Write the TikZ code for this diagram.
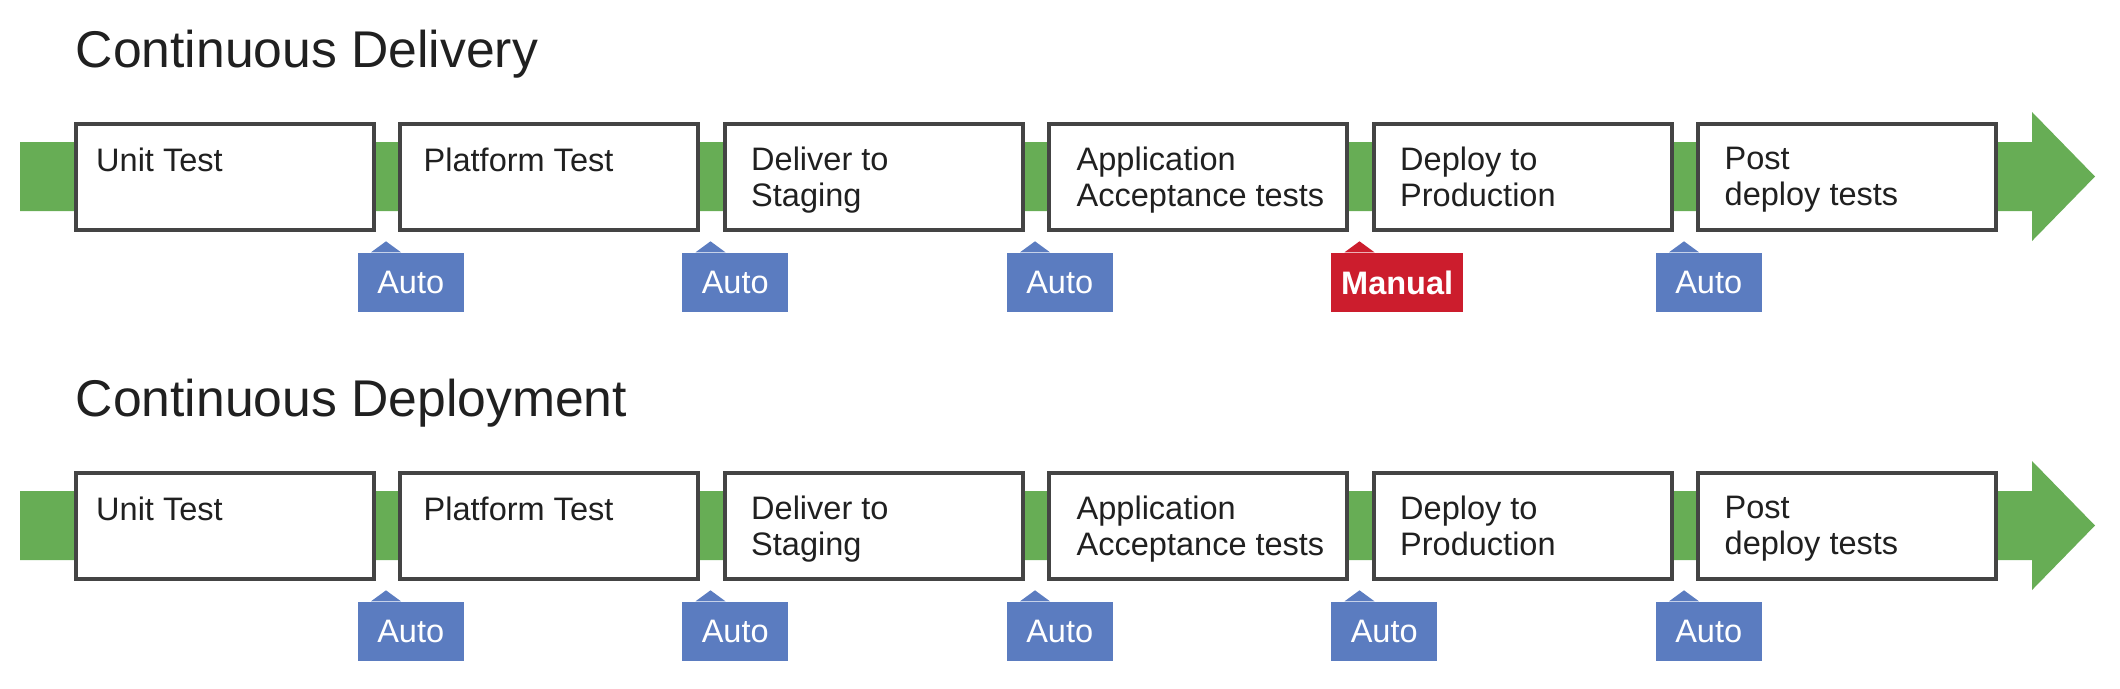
\documentclass[tikz,border=0pt]{standalone}
\usepackage{fontspec}
\setmainfont{Liberation Sans}
\definecolor{bandgreen}{HTML}{67AD55}
\definecolor{autoblue}{HTML}{5B7CC0}
\definecolor{manualred}{HTML}{CC1D2D}
\definecolor{boxgray}{HTML}{444444}
\definecolor{inkgray}{HTML}{202020}
\begin{document}
\begin{tikzpicture}
  [x=0.1mm,y=-0.1mm,
   title/.style={anchor=base west,inner sep=0pt,font=\fontsize{14.7}{17}\selectfont,text=inkgray},
   stepbox/.style={rectangle,draw=boxgray,fill=white,line width=0.4mm,minimum width=29.8mm,minimum height=10.6mm,inner sep=0pt},
   steptext/.style={anchor=north west,align=left,inner sep=0pt,font=\fontsize{9.25}{10.25}\selectfont,text=inkgray,execute at begin node=\strut},
   autotag/.style={rectangle,fill=autoblue,text=white,minimum width=10.6mm,minimum height=5.9mm,inner sep=0pt,font=\fontsize{9.25}{11}\selectfont},
   manualtag/.style={autotag,fill=manualred,minimum width=13.2mm,font=\fontsize{9.25}{11}\bfseries}]
  \useasboundingbox (0,0) rectangle (2120,688);

  % continuous delivery
  \node (cdtitle) at (75,67) [title] {Continuous Delivery};
  \fill [bandgreen] (20,142) -- (2032,142) -- (2032,112) -- (2095,176.5) -- (2032,241) -- (2032,211) -- (20,211) -- cycle;

  \node (cd1) at (224.5,177) [stepbox] {};
  \node (cd2) at (549,177) [stepbox] {};
  \node (cd3) at (873.5,177) [stepbox] {};
  \node (cd4) at (1198,177) [stepbox] {};
  \node (cd5) at (1522.5,177) [stepbox] {};
  \node (cd6) at (1847,177) [stepbox] {};

  \node (cd1t) at ([shift={(22,24)}]cd1.north west) [steptext] {Unit Test};
  \node (cd2t) at ([shift={(25,24)}]cd2.north west) [steptext] {Platform Test};
  \node (cd3t) at ([shift={(28,24)}]cd3.north west) [steptext] {Deliver to\\Staging};
  \node (cd4t) at ([shift={(29,24)}]cd4.north west) [steptext] {Application\\Acceptance tests};
  \node (cd5t) at ([shift={(28,24)}]cd5.north west) [steptext] {Deploy to\\Production};
  \node (cd6t) at ([shift={(28,24)}]cd6.north west) [steptext] {Post\\deploy tests};

  \node (cda1) at (410.7,282.5) [autotag] {Auto};
  \node (cda2) at (735.2,282.5) [autotag] {Auto};
  \node (cda3) at (1059.7,282.5) [autotag] {Auto};
  \node (cdm4) at (1397.2,282.5) [manualtag] {Manual};
  \node (cda5) at (1708.7,282.5) [autotag] {Auto};
  \fill [autoblue] ([xshift=1.4mm]cda1.north west) -- ++(15,-11) -- ++(15,11) -- cycle;
  \fill [autoblue] ([xshift=1.4mm]cda2.north west) -- ++(15,-11) -- ++(15,11) -- cycle;
  \fill [autoblue] ([xshift=1.4mm]cda3.north west) -- ++(15,-11) -- ++(15,11) -- cycle;
  \fill [manualred] ([xshift=1.4mm]cdm4.north west) -- ++(15,-11) -- ++(15,11) -- cycle;
  \fill [autoblue] ([xshift=1.4mm]cda5.north west) -- ++(15,-11) -- ++(15,11) -- cycle;

  % continuous deployment
  \node (dptitle) at (75,416) [title] {Continuous Deployment};
  \fill [bandgreen] (20,491) -- (2032,491) -- (2032,461) -- (2095,525.5) -- (2032,590) -- (2032,560) -- (20,560) -- cycle;

  \node (dp1) at (224.5,526) [stepbox] {};
  \node (dp2) at (549,526) [stepbox] {};
  \node (dp3) at (873.5,526) [stepbox] {};
  \node (dp4) at (1198,526) [stepbox] {};
  \node (dp5) at (1522.5,526) [stepbox] {};
  \node (dp6) at (1847,526) [stepbox] {};

  \node (dp1t) at ([shift={(22,24)}]dp1.north west) [steptext] {Unit Test};
  \node (dp2t) at ([shift={(25,24)}]dp2.north west) [steptext] {Platform Test};
  \node (dp3t) at ([shift={(28,24)}]dp3.north west) [steptext] {Deliver to\\Staging};
  \node (dp4t) at ([shift={(29,24)}]dp4.north west) [steptext] {Application\\Acceptance tests};
  \node (dp5t) at ([shift={(28,24)}]dp5.north west) [steptext] {Deploy to\\Production};
  \node (dp6t) at ([shift={(28,24)}]dp6.north west) [steptext] {Post\\deploy tests};

  \node (dpa1) at (410.7,631.5) [autotag] {Auto};
  \node (dpa2) at (735.2,631.5) [autotag] {Auto};
  \node (dpa3) at (1059.7,631.5) [autotag] {Auto};
  \node (dpa4) at (1384.2,631.5) [autotag] {Auto};
  \node (dpa5) at (1708.7,631.5) [autotag] {Auto};
  \fill [autoblue] ([xshift=1.4mm]dpa1.north west) -- ++(15,-11) -- ++(15,11) -- cycle;
  \fill [autoblue] ([xshift=1.4mm]dpa2.north west) -- ++(15,-11) -- ++(15,11) -- cycle;
  \fill [autoblue] ([xshift=1.4mm]dpa3.north west) -- ++(15,-11) -- ++(15,11) -- cycle;
  \fill [autoblue] ([xshift=1.4mm]dpa4.north west) -- ++(15,-11) -- ++(15,11) -- cycle;
  \fill [autoblue] ([xshift=1.4mm]dpa5.north west) -- ++(15,-11) -- ++(15,11) -- cycle;
\end{tikzpicture}
\end{document}
